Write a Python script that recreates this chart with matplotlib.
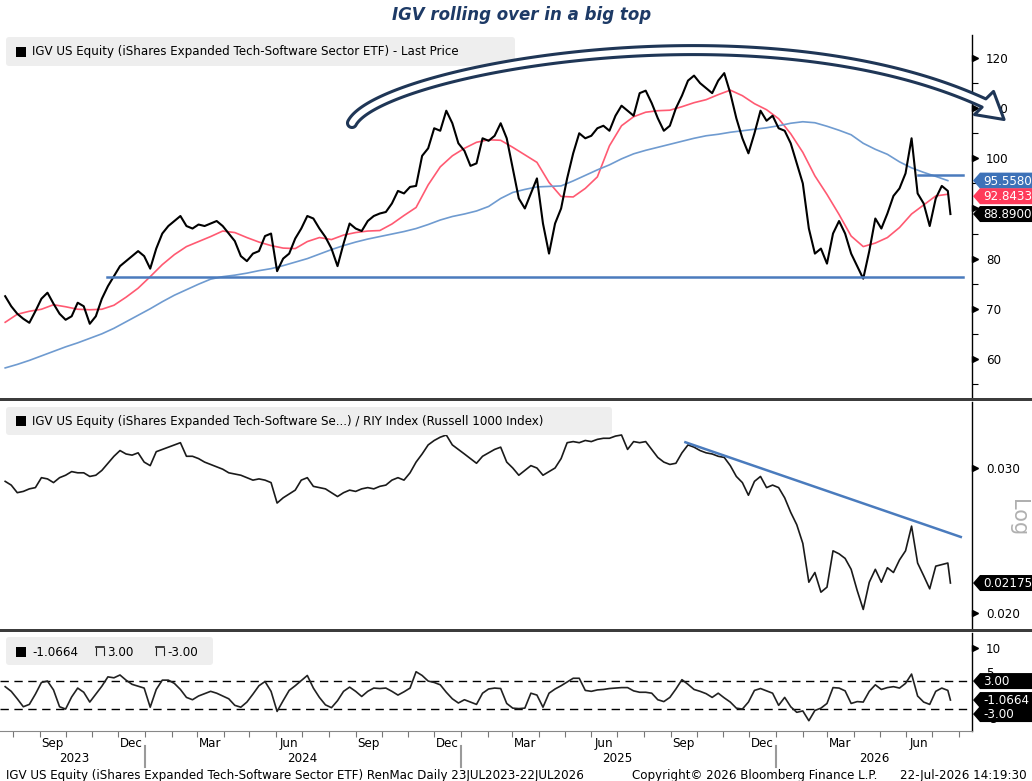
import numpy as np
import pandas as pd
import matplotlib
matplotlib.use("Agg")
import matplotlib.pyplot as plt
import matplotlib.dates as mdates
import matplotlib.transforms as mtransforms
from matplotlib.patches import Polygon, FancyBboxPatch, Rectangle
from matplotlib.ticker import FixedLocator, FixedFormatter, NullLocator, NullFormatter

# --- data ----------------------------------------------------------------
week_dates = list(pd.date_range("2023-07-23", periods=157, freq="7D")) + [pd.Timestamp("2026-07-22")]
ma_dates = pd.date_range("2023-07-23", periods=79, freq="14D")

# IGV last price, weekly
price = [
    72.5, 70.5, 69.0, 68.0, 67.2, 69.5, 72.0, 73.2, 71.0, 69.0,
    67.8, 68.5, 71.2, 70.5, 67.0, 68.5, 72.0, 74.5, 76.5, 78.5,
    79.5, 80.5, 81.5, 80.5, 78.0, 82.0, 85.0, 86.5, 87.5, 88.5,
    86.5, 86.0, 86.8, 86.5, 87.0, 87.5, 86.5, 85.0, 83.5, 80.5,
    79.5, 81.0, 81.5, 84.5, 85.0, 77.5, 80.0, 81.0, 84.0, 86.0,
    88.5, 88.0, 86.0, 84.3, 82.0, 78.5, 83.0, 87.0, 86.0, 85.5,
    87.5, 88.5, 89.0, 89.3, 91.0, 93.5, 93.0, 94.3, 94.5, 100.5,
    102.0, 106.0, 105.5, 109.5, 107.0, 103.0, 101.5, 98.5, 99.0, 104.0,
    103.5, 104.5, 107.0, 104.0, 98.0, 92.0, 90.0, 93.0, 96.0, 87.0,
    81.0, 87.0, 90.0, 96.0, 101.0, 105.0, 104.0, 104.5, 106.0, 106.5,
    105.5, 108.5, 110.5, 109.5, 108.5, 113.0, 113.5, 111.0, 108.0, 105.5,
    106.5, 110.0, 112.5, 115.5, 116.5, 115.0, 114.0, 113.0, 115.5, 117.0,
    113.0, 108.0, 104.0, 101.0, 105.0, 109.5, 107.5, 108.5, 106.0, 105.5,
    103.0, 99.0, 95.0, 86.0, 81.0, 82.0, 79.0, 85.0, 87.5, 85.0,
    81.0, 78.5, 76.0, 81.5, 88.0, 86.0, 89.0, 92.5, 94.0, 97.0,
    104.0, 93.0, 91.0, 86.5, 92.0, 94.5, 93.5, 88.89,
]

# moving averages, every two weeks
ma_red = [
    67.3, 68.9, 69.5, 69.9, 70.8, 70.4, 69.9, 69.8, 69.9, 70.7,
    72.3, 74.1, 76.4, 78.8, 80.8, 82.4, 83.4, 84.4, 85.5, 85.2,
    84.2, 83.3, 82.6, 82.1, 82.0, 83.4, 84.2, 83.8, 84.7, 85.2,
    85.5, 85.6, 86.9, 88.6, 90.2, 94.7, 98.3, 100.5, 102.0, 103.2,
    103.7, 103.6, 102.2, 100.7, 99.2, 95.2, 92.4, 92.3, 94.0, 96.3,
    102.5, 106.5, 108.3, 109.2, 109.5, 109.6, 110.3, 111.1, 111.7, 112.7,
    113.6, 112.5, 110.9, 109.7, 107.9, 104.9, 101.2, 96.5, 92.8, 88.8,
    84.5, 82.4, 83.1, 84.2, 86.2, 88.9, 90.7, 92.5, 92.8433,
]
ma_blue = [
    58.2, 58.9, 59.7, 60.6, 61.5, 62.4, 63.2, 64.1, 65.0, 66.1,
    67.4, 68.7, 70.0, 71.4, 72.7, 73.8, 74.9, 75.9, 76.4, 76.7,
    77.1, 77.6, 78.0, 78.6, 79.3, 80.0, 80.9, 81.8, 82.6, 83.3,
    83.9, 84.4, 84.9, 85.4, 86.0, 86.8, 87.7, 88.4, 88.9, 89.5,
    90.4, 92.0, 93.2, 93.8, 94.3, 94.4, 94.5, 95.5, 96.6, 97.7,
    98.7, 99.9, 100.9, 101.6, 102.2, 102.8, 103.4, 104.0, 104.5, 104.8,
    105.2, 105.5, 105.8, 106.1, 106.5, 107.0, 107.3, 107.1, 106.4, 105.6,
    104.7, 103.0, 101.8, 100.8, 99.3, 98.1, 97.2, 96.4, 95.558,
]

# IGV / RIY ratio, weekly
ratio = [
    0.0289, 0.0286, 0.0280, 0.0281, 0.0283, 0.0284, 0.0292, 0.0291, 0.0288, 0.0292,
    0.0294, 0.0297, 0.0296, 0.0296, 0.0293, 0.0294, 0.0298, 0.0304, 0.0310, 0.0315,
    0.0312, 0.0311, 0.0313, 0.0305, 0.0302, 0.0314, 0.0316, 0.0318, 0.0320, 0.0322,
    0.0310, 0.0310, 0.0308, 0.0305, 0.0303, 0.0301, 0.0299, 0.0296, 0.0295, 0.0294,
    0.0292, 0.0290, 0.0291, 0.0290, 0.0288, 0.0272, 0.0276, 0.0279, 0.0282, 0.0290,
    0.0292, 0.0285, 0.0284, 0.0283, 0.0280, 0.0277, 0.0280, 0.0282, 0.0281, 0.0283,
    0.0284, 0.0283, 0.0285, 0.0286, 0.0290, 0.0292, 0.0290, 0.0296, 0.0305, 0.0312,
    0.0320, 0.0324, 0.0327, 0.0329, 0.0320, 0.0316, 0.0312, 0.0308, 0.0304, 0.0310,
    0.0313, 0.0316, 0.0318, 0.0305, 0.0300, 0.0294, 0.0298, 0.0302, 0.0300, 0.0294,
    0.0297, 0.0300, 0.0308, 0.0322, 0.0323, 0.0322, 0.0324, 0.0323, 0.0325, 0.0326,
    0.0326, 0.0328, 0.0329, 0.0316, 0.0323, 0.0322, 0.0323, 0.0316, 0.0309, 0.0305,
    0.0303, 0.0304, 0.0313, 0.0320, 0.0318, 0.0315, 0.0313, 0.0312, 0.0310, 0.0309,
    0.0302, 0.0293, 0.0288, 0.0278, 0.0289, 0.0293, 0.0284, 0.0286, 0.0284, 0.0276,
    0.0265, 0.0256, 0.0243, 0.0218, 0.0224, 0.0212, 0.0215, 0.0238, 0.0236, 0.0233,
    0.0226, 0.0213, 0.0202, 0.0218, 0.0226, 0.0218, 0.0227, 0.0224, 0.0232, 0.0238,
    0.0255, 0.0230, 0.0222, 0.0214, 0.0228, 0.0229, 0.0230, 0.02175,
]

# oscillator, weekly
osc = [
    1.8, 0.8, -0.8, -2.5, -2.0, 0.2, 2.7, 3.0, 1.1, -2.5,
    -3.0, -0.4, 1.5, 0.6, -1.5, 0.2, 1.9, 3.9, 3.7, 4.3,
    3.2, 2.3, 1.9, 1.5, -2.6, 1.2, 3.2, 3.2, 2.5, 1.2,
    -0.5, -1.0, -0.2, 0.3, 0.8, 0.4, -0.2, -0.8, -2.2, -2.6,
    -1.5, 0.2, 2.0, 2.9, 0.8, -3.5, -1.2, 1.0, 2.0, 3.1,
    4.2, 1.5, -0.5, -2.1, -2.7, -1.2, 0.8, 1.7, 0.8, -0.3,
    0.8, 1.5, 1.4, 1.5, 0.8, 0.0, 0.7, 1.5, 5.0, 4.2,
    3.0, 2.7, 2.2, 0.6, -0.8, -1.7, -1.0, -1.5, -2.0, 0.4,
    1.3, 1.5, 1.4, -1.8, -2.8, -2.9, -2.8, 0.4, 0.0, -2.6,
    0.4, 1.3, 2.0, 2.8, 3.6, 3.6, 1.0, 0.8, 1.1, 1.2,
    1.4, 1.5, 1.6, 1.6, 0.9, 0.6, 0.6, 0.4, -1.0, -1.4,
    -0.5, 1.3, 3.3, 2.3, 1.2, 0.8, 0.3, -0.5, 0.4, -0.6,
    -1.5, -2.8, -3.0, -1.5, 1.0, 1.4, 0.9, 0.4, -2.2, -0.5,
    -2.5, -3.7, -3.4, -5.5, -3.3, -2.8, -1.8, 1.6, 1.5, 0.9,
    -1.8, -1.4, -1.5, 0.8, 2.2, 1.2, 1.6, 1.8, 1.5, 2.5,
    4.5, -0.2, -1.5, -2.0, 0.8, 1.5, 1.0, -1.0664,
]

support_dates = ["2023-11-18", "2026-08-06"]
support_level = 76.4
resist_dates = ["2026-06-15", "2026-08-06"]
resist_level = 96.7
trend_dates = ["2025-09-18", "2026-08-03"]
trend_vals = [0.03224, 0.02474]

years = {"2023": "2023-10-11", "2024": "2024-07-01", "2025": "2025-07-01", "2026": "2026-04-25"}
year_breaks = ["2024-01-01", "2025-01-01", "2026-01-01"]

# --- figure ---------------------------------------------------------------
W, H = 1032, 781
fig = plt.figure(figsize=(W / 100, H / 100), dpi=100)
fig.patch.set_facecolor("white")


def box(top, bottom, left=0, right=972):
    return [left / W, 1 - bottom / H, (right - left) / W, (bottom - top) / H]


ax1 = fig.add_axes(box(35, 398))
ax2 = fig.add_axes(box(402, 628))
ax3 = fig.add_axes(box(633, 731))

xmin, xmax = pd.Timestamp("2023-07-17"), pd.Timestamp("2026-08-16")
TXT = 8.6

for ax in (ax1, ax2, ax3):
    ax.set_xlim(xmin, xmax)
    for s in ("left", "top", "bottom"):
        ax.spines[s].set_visible(False)
    ax.spines["right"].set_linewidth(1.0)
    ax.yaxis.tick_right()
    ax.tick_params(axis="y", which="major", length=0, pad=10, labelsize=TXT)
    ax.tick_params(axis="y", which="minor", length=4, width=0.8, labelright=False)
    ax.tick_params(axis="x", which="both", length=0, labelbottom=False)


def arrow_ticks(ax, vals):
    tr = mtransforms.offset_copy(
        mtransforms.blended_transform_factory(ax.transAxes, ax.transData),
        fig=fig, x=3, y=0, units="dots")
    ax.plot([1.0] * len(vals), vals, ls="none", marker=">", ms=5,
            color="black", transform=tr, clip_on=False)


# top panel: price
ax1.plot(week_dates, price, color="black", lw=1.5, zorder=3)
ax1.plot(ma_dates, ma_red, color="#ff5a72", lw=1.2, zorder=2)
ax1.plot(ma_dates, ma_blue, color="#6f9bd0", lw=1.2, zorder=2)
ax1.plot(pd.to_datetime(support_dates), [support_level] * 2, color="#4a7bbd", lw=1.8, zorder=4)
ax1.plot(pd.to_datetime(resist_dates), [resist_level] * 2, color="#4a7bbd", lw=1.8, zorder=4)
ax1.set_ylim(52.2, 124.6)
major1 = [60, 70, 80, 90, 100, 110, 120]
ax1.yaxis.set_major_locator(FixedLocator(major1))
ax1.yaxis.set_major_formatter(FixedFormatter(["60", "70", "80", "", "100", "110", "120"]))
ax1.yaxis.set_minor_locator(FixedLocator([55, 65, 75, 85, 95, 105, 115]))
arrow_ticks(ax1, major1)

# middle panel: ratio (log)
ax2.plot(week_dates, ratio, color="#1a1a1a", lw=1.2, zorder=3)
ax2.plot(pd.to_datetime(trend_dates), trend_vals, color="#4a7bbd", lw=1.8, zorder=4)
ax2.set_yscale("log")
ax2.set_ylim(0.01918, 0.03608)
ax2.yaxis.set_major_locator(FixedLocator([0.02, 0.03]))
ax2.yaxis.set_major_formatter(FixedFormatter(["0.020", "0.030"]))
ax2.yaxis.set_minor_locator(NullLocator())
ax2.yaxis.set_minor_formatter(NullFormatter())
ax2.tick_params(axis="y", which="major", length=0, pad=10, labelsize=TXT)
arrow_ticks(ax2, [0.02, 0.03])

# bottom panel: oscillator
ax3.plot(week_dates, osc, color="#222222", lw=1.2, zorder=3)
ax3.axhline(3, color="black", lw=1, ls=(0, (6, 4)))
ax3.axhline(-3, color="black", lw=1, ls=(0, (6, 4)))
ax3.set_ylim(-7.7, 13.3)
major3 = [-5, 0, 5, 10]
ax3.yaxis.set_major_locator(FixedLocator(major3))
ax3.yaxis.set_major_formatter(FixedFormatter(["-5", "", "5", "10"]))
ax3.yaxis.set_minor_locator(NullLocator())
arrow_ticks(ax3, [10])
ax3.spines["bottom"].set_visible(True)
ax3.spines["bottom"].set_color("#888888")
ax3.xaxis.set_major_locator(mdates.MonthLocator())
ax3.xaxis.set_major_formatter(NullFormatter())
ax3.xaxis.set_minor_locator(mdates.MonthLocator(bymonth=[3, 6, 9, 12], bymonthday=16))
ax3.xaxis.set_minor_formatter(mdates.DateFormatter("%b"))
ax3.tick_params(axis="x", which="major", length=4, width=0.8, color="#777777")
ax3.tick_params(axis="x", which="minor", length=0, pad=4, labelsize=TXT, labelbottom=True)

# --- overlay in pixel coordinates ------------------------------------------
axo = fig.add_axes([0, 0, 1, 1], zorder=10)
axo.set_xlim(0, W)
axo.set_ylim(H, 0)
axo.axis("off")


def to_px(ax, d, v):
    x, y = ax.transData.transform((mdates.date2num(pd.Timestamp(d)), v))
    return x, H - y


# panel separators
for y0 in (398, 628.5):
    axo.add_patch(Rectangle((0, y0), W, 3, fc="#3c3c3c", ec="none"))

# title
axo.text(522, 15, "IGV rolling over in a big top", ha="center", va="center",
         fontsize=12, style="italic", weight="bold", color="#1d3a66")


# legends
def legend_box(x0, y0, w, h):
    axo.add_patch(FancyBboxPatch((x0, y0), w, h, boxstyle="round,pad=0,rounding_size=3",
                                 fc="#eeeeee", ec="none"))


legend_box(6, 37, 509, 29)
axo.add_patch(Rectangle((16, 47), 10, 10, fc="black"))
axo.text(32, 52, "IGV US Equity (iShares Expanded Tech-Software Sector ETF) - Last Price",
         fontsize=TXT, va="center")

legend_box(6, 407, 606, 28)
axo.add_patch(Rectangle((16, 416), 10, 10, fc="black"))
axo.text(32, 421, "IGV US Equity (iShares Expanded Tech-Software Se...) / RIY Index (Russell 1000 Index)",
         fontsize=TXT, va="center")

legend_box(6, 637, 207, 28)
axo.add_patch(Rectangle((16, 647), 10, 10, fc="black"))
axo.text(32, 652, "-1.0664", fontsize=TXT, va="center")
for xi, lab in ((96, "3.00"), (156, "-3.00")):
    axo.plot([xi, xi + 8], [647, 647], color="#222", lw=1.2)
    axo.plot([xi, xi], [648, 655], color="#222", lw=0.8)
    axo.plot([xi + 8, xi + 8], [648, 655], color="#222", lw=0.8)
    axo.text(xi + 11, 652, lab, fontsize=TXT, va="center")


# value tags on the right axis
def value_tag(yc, text, color, h=16):
    pts = [(973, yc), (980, yc - h / 2), (1032, yc - h / 2), (1032, yc + h / 2), (980, yc + h / 2)]
    axo.add_patch(Polygon(pts, closed=True, fc=color, ec="none"))
    axo.text(983, yc + 0.5, text, color="white", fontsize=TXT, va="center", ha="left")


last = week_dates[-1]
value_tag(to_px(ax1, last, ma_blue[-1])[1], "95.5580", "#3d72b8")
value_tag(to_px(ax1, last, ma_red[-1])[1] + 2, "92.8433", "#ff3a5a")
value_tag(to_px(ax1, last, price[-1])[1], "88.8900", "black")
value_tag(to_px(ax2, last, ratio[-1])[1], "0.02175", "black")
value_tag(to_px(ax3, last, -3)[1] + 5, "-3.00", "black")
value_tag(to_px(ax3, last, 3)[1], "3.00", "black")
value_tag(to_px(ax3, last, osc[-1])[1], "-1.0664", "black")

axo.text(1018, 518, "Log", rotation=270, color="#b0b0b0", fontsize=15,
         ha="center", va="center")

# big hollow curved arrow drawn as an outline polygon
P = np.array([[352, 123], [380, 70], [760, 0], [984, 103]], dtype=float)
t = np.linspace(0, 1, 200)[:, None]
curve = ((1 - t) ** 3) * P[0] + 3 * ((1 - t) ** 2) * t * P[1] + 3 * (1 - t) * t ** 2 * P[2] + t ** 3 * P[3]
tang = np.gradient(curve, axis=0)
tang /= np.linalg.norm(tang, axis=1)[:, None]
norm = np.column_stack([-tang[:, 1], tang[:, 0]])
hw = 4.5
left = curve + norm * hw
right = curve - norm * hw
ang = np.arctan2(tang[-1, 1], tang[-1, 0]) + np.radians(15)
u_h = np.array([np.cos(ang), np.sin(ang)])
n_h = np.array([-u_h[1], u_h[0]])
E = curve[-1]
head = [E + n_h * 15, E + u_h * 26, E - n_h * 15]
a = np.linspace(np.pi, 0, 20)[:, None]
tail = curve[0] + hw * (norm[0] * np.cos(a) - tang[0] * np.sin(a))
outline = np.vstack([left, head, right[::-1], tail])
axo.add_patch(Polygon(outline, closed=True, fc="white", ec="#1f3656", lw=2.2,
                      joinstyle="round", zorder=20))

# years and separators
for lab, d in years.items():
    axo.text(to_px(ax3, d, 0)[0], 758, lab, ha="center", va="center", fontsize=TXT)
for d in year_breaks:
    xb = to_px(ax3, d, 0)[0]
    axo.plot([xb, xb], [746, 767], color="#9a9a9a", lw=1.5)

# footer
axo.text(6, 775, "IGV US Equity (iShares Expanded Tech-Software Sector ETF) RenMac Daily 23JUL2023-22JUL2026",
         fontsize=TXT, va="center")
axo.text(632, 775, "Copyright\u00a9 2026 Bloomberg Finance L.P.", fontsize=TXT, va="center")
axo.text(900, 775, "22-Jul-2026 14:19:30", fontsize=TXT, va="center")

fig.savefig("out.png", dpi=100)
